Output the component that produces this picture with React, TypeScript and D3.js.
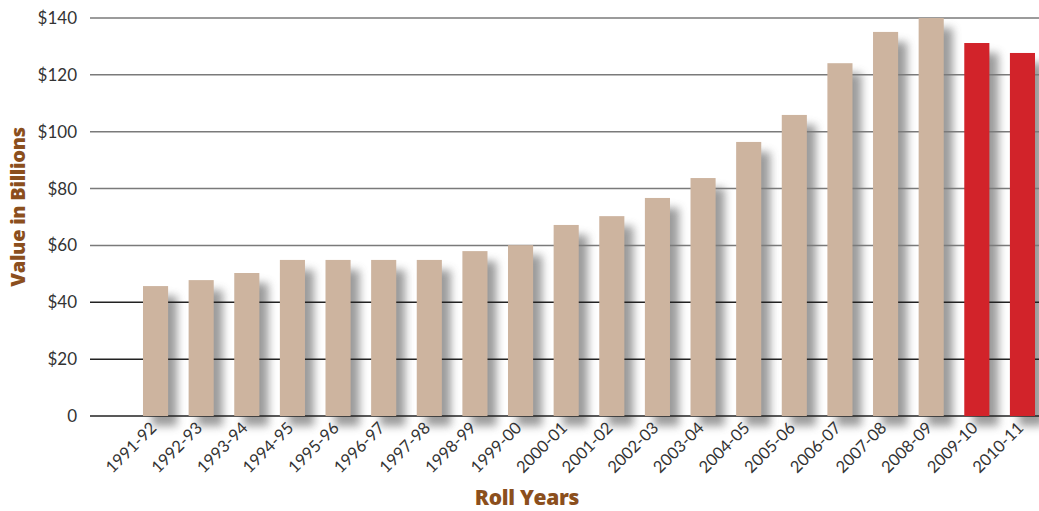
import React, { useRef, useEffect } from "react";
import * as d3 from "d3";

const years = [
  "1991-92", "1992-93", "1993-94", "1994-95", "1995-96", "1996-97", "1997-98",
  "1998-99", "1999-00", "2000-01", "2001-02", "2002-03", "2003-04", "2004-05",
  "2005-06", "2006-07", "2007-08", "2008-09", "2009-10", "2010-11",
];
const values = [
  45.7, 47.8, 50.3, 54.9, 54.9, 54.9, 54.9, 58.0, 60.1, 67.2, 70.3, 76.7,
  83.7, 96.4, 105.9, 124.1, 135.1, 140.0, 131.2, 127.7,
];
const highlighted = ["2009-10", "2010-11"];
const yTicks = [0, 20, 40, 60, 80, 100, 120, 140];

const width = 1039;
const height = 511;

const App = () => {
  const ref: any = useRef();

  useEffect(() => {
    document.body.style.margin = "0";
    const svg = d3.select(ref.current);
    svg.selectAll("*").remove();

    const x = d3.scaleBand().domain(years).range([143, 1035]).paddingInner(0.45).paddingOuter(0);
    const y = d3.scaleLinear().domain([0, 140]).range([416, 18]);

    const data = years.map((yr, i) => ({ year: yr, value: values[i] }));

    // blur filter for the drop shadows
    const defs = svg.append("defs");
    defs
      .append("filter")
      .attr("id", "shadowBlur")
      .attr("x", "-50%")
      .attr("y", "-50%")
      .attr("width", "200%")
      .attr("height", "200%")
      .append("feGaussianBlur")
      .attr("stdDeviation", 4.5);

    // shadows behind everything
    svg
      .append("g")
      .selectAll("rect")
      .data(data)
      .enter()
      .append("rect")
      .attr("x", (d: any) => (x(d.year) as number) + 9)
      .attr("y", (d: any) => y(d.value) + 10)
      .attr("width", x.bandwidth())
      .attr("height", (d: any) => y(0) - y(d.value))
      .attr("fill", "#8a8a8a")
      .attr("opacity", 0.85)
      .attr("filter", "url(#shadowBlur)");

    // gridlines
    const grid = svg.append("g");
    grid
      .selectAll("line")
      .data(yTicks)
      .enter()
      .append("line")
      .attr("x1", 90)
      .attr("x2", width)
      .attr("y1", (d: any) => y(d))
      .attr("y2", (d: any) => y(d))
      .attr("stroke", (d: any) => (d >= 60 ? "#7a7a7a" : "#222"))
      .attr("stroke-width", 1.5);

    // y labels
    svg
      .append("g")
      .selectAll("text")
      .data(yTicks)
      .enter()
      .append("text")
      .attr("x", 77)
      .attr("y", (d: any) => y(d))
      .attr("dy", "0.35em")
      .attr("text-anchor", "end")
      .attr("font-family", "Lato, 'Open Sans', sans-serif")
      .attr("font-size", 17)
      .attr("fill", "#333")
      .text((d: any) => (d === 0 ? "0" : "$" + d));

    // bars
    svg
      .append("g")
      .selectAll("rect")
      .data(data)
      .enter()
      .append("rect")
      .attr("x", (d: any) => x(d.year) as number)
      .attr("y", (d: any) => y(d.value))
      .attr("width", x.bandwidth())
      .attr("height", (d: any) => y(0) - y(d.value))
      .attr("fill", (d: any) => (highlighted.includes(d.year) ? "#d2232a" : "#cdb49f"));

    // x labels
    svg
      .append("g")
      .selectAll("text")
      .data(years)
      .enter()
      .append("text")
      .attr(
        "transform",
        (d: any) => "translate(" + ((x(d) as number) + x.bandwidth() / 2 + 2) + ",429) rotate(-45)"
      )
      .attr("text-anchor", "end")
      .attr("font-family", "Lato, 'Open Sans', sans-serif")
      .attr("font-size", 16.5)
      .attr("fill", "#333")
      .text((d: any) => d);

    // axis titles
    svg
      .append("text")
      .attr("transform", "translate(25,207) rotate(-90)")
      .attr("text-anchor", "middle")
      .attr("font-family", "'Open Sans', Lato, sans-serif")
      .attr("font-weight", 800)
      .attr("font-size", 20)
      .attr("letter-spacing", -0.3)
      .attr("fill", "#8b4f1d")
      .text("Value in Billions");

    svg
      .append("text")
      .attr("x", 527)
      .attr("y", 505)
      .attr("text-anchor", "middle")
      .attr("font-family", "'Open Sans', Lato, sans-serif")
      .attr("font-weight", 800)
      .attr("font-size", 21)
      .attr("letter-spacing", -0.3)
      .attr("fill", "#8b4f1d")
      .text("Roll Years");
  }, []);

  return (
    <svg
      ref={ref}
      width={width}
      height={height}
      style={{ position: "absolute", left: 0, top: 0, background: "#fff" }}
    ></svg>
  );
};

export default App;
